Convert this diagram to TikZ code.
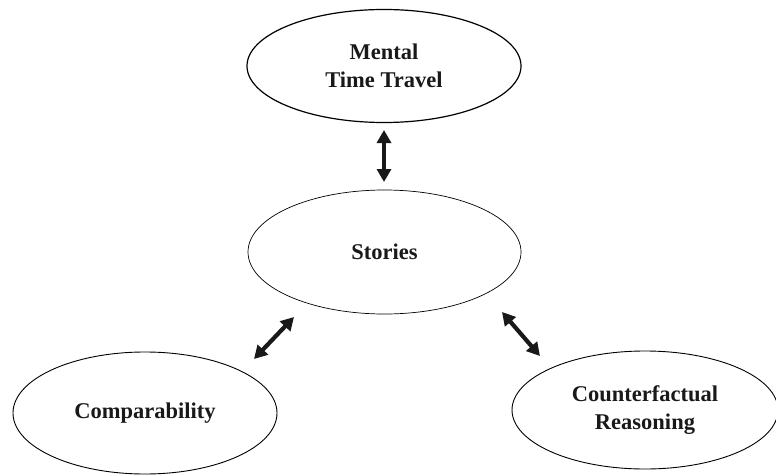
\documentclass[tikz,border=0pt]{standalone}
\usepackage{fontspec}
\setmainfont{Liberation Serif}
\usetikzlibrary{shapes.geometric,arrows.meta}
\begin{document}
\begin{tikzpicture}[x=1pt,y=-1pt,
  oval/.style={ellipse,draw=black,line width=0.9pt,inner sep=0pt,align=center,
    font=\fontsize{22.5}{28}\selectfont\bfseries,text=black!90},
  dblarrow/.style={draw=black!90,line width=4.2pt,{Triangle[width=14pt,length=13pt]}-{Triangle[width=14pt,length=13pt]}}]
\useasboundingbox (0,0) rectangle (776,476);
\node[oval,line width=1.2pt,minimum width=274pt,minimum height=113pt] (mtt) at (384,66) {Mental\\Time Travel};
\node[oval,line width=0.7pt,minimum width=273pt,minimum height=124pt] (st) at (384.5,252) {Stories};
\node[oval,minimum width=264pt,minimum height=122pt] (cmp) at (145,413) {Comparability};
\node[oval,minimum width=266pt,minimum height=118pt] (cfr) at (645,410) {Counterfactual\\Reasoning};
\coordinate (a1) at (384,130);
\coordinate (a2) at (384,182);
\coordinate (b1) at (294,317);
\coordinate (b2) at (254,359);
\coordinate (c1) at (502,312);
\coordinate (c2) at (540,356);
\draw[dblarrow] (a1) -- (a2);
\draw[dblarrow] (b1) -- (b2);
\draw[dblarrow] (c1) -- (c2);
\end{tikzpicture}
\end{document}
